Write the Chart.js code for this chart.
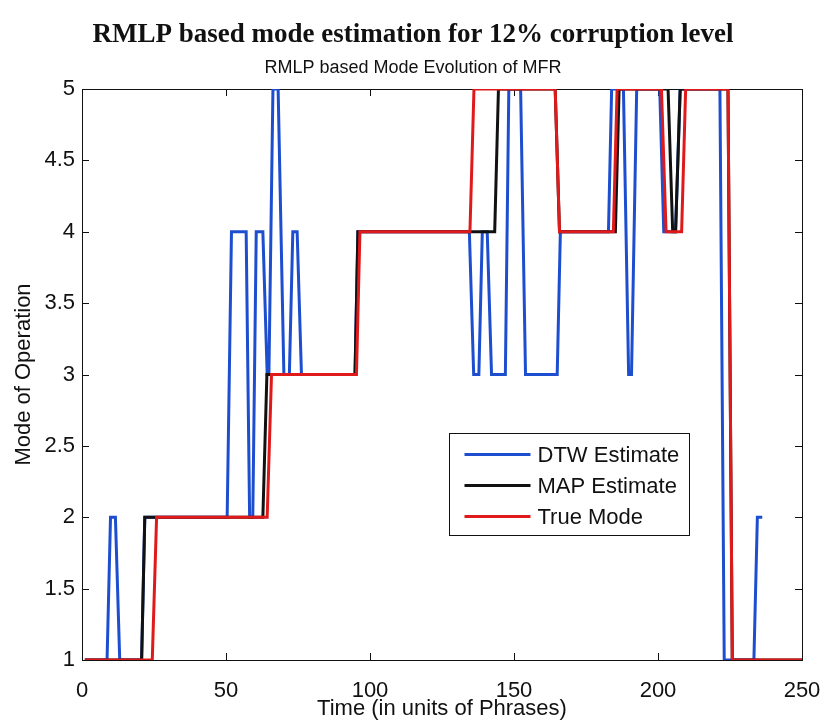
<!DOCTYPE html>
<html>
<head>
<meta charset="utf-8">
<script src="https://cdn.jsdelivr.net/npm/chart.js@4.4.1/dist/chart.umd.min.js"></script>
<style>
  html, body { margin: 0; padding: 0; background: #fff; }
</style>
</head>
<body>
<canvas id="modes" width="826" height="720"></canvas>
<script>
// step traces stored as their corner points: time (phrases) and mode
const dtwTime = [1, 8.7, 9.9, 11.6, 13.1, 20.7, 21.8, 50.4, 51.9, 57, 58.2, 59.3, 60.5, 62.8, 64.3, 64.9, 66.3, 68.1, 70.1, 72, 73.2, 74.7, 76.2, 94.8, 95.8, 134.5, 136, 137.8, 139, 140.7, 142.2, 147, 148.2, 152.3, 154, 165, 166.1, 182.8, 183.9, 188, 189.8, 190.8, 192.6, 200.6, 202, 206.1, 207.7, 221.5, 223, 233.3, 234.5, 236.2];
const dtwMode = [1, 1, 2, 2, 1, 1, 2, 2, 4, 4, 2, 2, 4, 4, 3, 3, 5, 5, 3, 3, 4, 4, 3, 3, 4, 4, 3, 3, 4, 4, 3, 3, 5, 5, 3, 3, 4, 4, 5, 5, 3, 3, 5, 5, 4, 4, 5, 5, 1, 1, 2, 2];

const mapTime = [1, 20.7, 21.8, 62.8, 64.2, 94.8, 95.8, 143.3, 144.6, 164.3, 165.8, 185.2, 186.5, 203.5, 205.1, 206.1, 207.7, 224.3, 225.8, 250];
const mapMode = [1, 1, 2, 2, 3, 3, 4, 4, 5, 5, 4, 4, 5, 5, 4, 4, 5, 5, 1, 1];

const trueTime = [1, 24.4, 25.9, 64.3, 65.8, 95.3, 96.5, 134.7, 136.1, 164.3, 165.8, 184.5, 185.8, 201.2, 202.8, 208.2, 209.6, 224.3, 225.8, 250];
const trueMode = [1, 1, 2, 2, 3, 3, 4, 4, 5, 5, 4, 4, 5, 5, 4, 4, 5, 5, 1, 1];

const seriesNames = ['DTW Estimate', 'MAP Estimate', 'True Mode'];
const xTicks = [0, 50, 100, 150, 200, 250];
const yTicks = [1, 1.5, 2, 2.5, 3, 3.5, 4, 4.5, 5];

const SANS = '"Liberation Sans", Arial, Helvetica, sans-serif';
const toPoints = (t, m) => t.map((v, i) => ({ x: v, y: m[i] }));

// matlab style box: frame plus inward ticks on all four sides
const boxTicks = {
  id: 'boxTicks',
  beforeDatasetsDraw(chart) {
    const { ctx, chartArea: a, scales: { x, y } } = chart;
    const len = 7;
    ctx.save();
    ctx.strokeStyle = '#111';
    ctx.lineWidth = 1;
    ctx.beginPath();
    xTicks.forEach(v => {
      const px = Math.round(x.getPixelForValue(v)) + 0.5;
      ctx.moveTo(px, a.bottom); ctx.lineTo(px, a.bottom - len);
      ctx.moveTo(px, a.top); ctx.lineTo(px, a.top + len);
    });
    yTicks.forEach(v => {
      const py = Math.round(y.getPixelForValue(v)) + 0.5;
      ctx.moveTo(a.left, py); ctx.lineTo(a.left + len, py);
      ctx.moveTo(a.right, py); ctx.lineTo(a.right - len, py);
    });
    ctx.stroke();
    ctx.strokeRect(Math.round(a.left) + 0.5, Math.round(a.top) + 0.5,
      Math.round(a.width), Math.round(a.height));
    ctx.restore();
  }
};

// boxed legend sitting inside the axes
const boxLegend = {
  id: 'boxLegend',
  afterDatasetsDraw(chart, args, opts) {
    const { ctx, scales: { x, y } } = chart;
    const left = Math.round(x.getPixelForValue(opts.atX)) + 0.5;
    const top = Math.round(y.getPixelForValue(opts.atY)) + 0.5;
    ctx.save();
    ctx.fillStyle = '#fff';
    ctx.fillRect(left, top, opts.width, opts.height);
    ctx.strokeStyle = '#111';
    ctx.lineWidth = 1;
    ctx.strokeRect(left, top, opts.width, opts.height);
    ctx.font = opts.font;
    ctx.textBaseline = 'middle';
    chart.data.datasets.forEach((ds, i) => {
      const ry = top + opts.firstRow + i * opts.rowGap;
      ctx.strokeStyle = ds.borderColor;
      ctx.lineWidth = 3;
      ctx.beginPath();
      ctx.moveTo(left + 15, ry);
      ctx.lineTo(left + 81, ry);
      ctx.stroke();
      ctx.fillStyle = '#111';
      ctx.fillText(ds.label, left + 88, ry + 1);
    });
    ctx.restore();
  }
};

const lineStyle = { borderWidth: 3, pointRadius: 0, tension: 0, fill: false };

new Chart(document.getElementById('modes'), {
  type: 'line',
  data: {
    datasets: [
      { label: seriesNames[0], data: toPoints(dtwTime, dtwMode), borderColor: '#1d4ed0', order: 3, ...lineStyle },
      { label: seriesNames[1], data: toPoints(mapTime, mapMode), borderColor: '#111111', order: 2, ...lineStyle },
      { label: seriesNames[2], data: toPoints(trueTime, trueMode), borderColor: '#e01a1a', order: 1, ...lineStyle },
    ],
  },
  plugins: [boxTicks, boxLegend],
  options: {
    responsive: false,
    animation: false,
    layout: { padding: 0 },
    scales: {
      x: {
        type: 'linear',
        min: 0,
        max: 250,
        afterBuildTicks: s => { s.ticks = xTicks.map(v => ({ value: v })); },
        // fixed height; right margin kept for the last tick label
        afterFit: s => { s.height = 60; s.paddingLeft = 0; s.paddingRight = 24; },
        grid: { display: false, drawTicks: false },
        border: { display: false },
        ticks: { color: '#111', font: { family: SANS, size: 22 }, padding: 18, maxRotation: 0, callback: v => String(v) },
        title: { display: true, text: 'Time (in units of Phrases)', color: '#111', font: { family: SANS, size: 22 }, padding: { top: 0, bottom: -2 } },
      },
      y: {
        type: 'linear',
        min: 1,
        max: 5,
        afterBuildTicks: s => { s.ticks = yTicks.map(v => ({ value: v })); },
        afterFit: s => { s.width = 82; },
        grid: { display: false, drawTicks: false },
        border: { display: false },
        ticks: { color: '#111', font: { family: SANS, size: 22 }, padding: 7, callback: v => String(v) },
        title: { display: true, text: 'Mode of Operation', color: '#111', font: { family: SANS, size: 22 }, padding: { top: 11, bottom: 0 } },
      },
    },
    plugins: {
      legend: { display: false },
      tooltip: { enabled: false },
      title: {
        display: true,
        text: 'RMLP based mode estimation for 12% corruption level',
        color: '#111',
        font: { family: '"Liberation Serif", "Times New Roman", serif', size: 27, weight: 'bold' },
        padding: { top: 19, bottom: 4 },
      },
      subtitle: {
        display: true,
        text: 'RMLP based Mode Evolution of MFR',
        color: '#111',
        font: { family: SANS, size: 18 },
        padding: { top: 2, bottom: 10 },
      },
      boxLegend: {
        atX: 127.4, atY: 2.59, width: 240, height: 102,
        firstRow: 21, rowGap: 31,
        font: '22px ' + SANS,
      },
    },
  },
});
</script>
</body>
</html>
